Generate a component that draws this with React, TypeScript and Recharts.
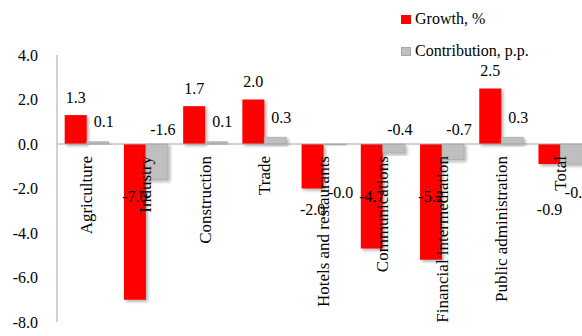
import React from "react";
import {
  BarChart,
  Bar,
  XAxis,
  YAxis,
  ReferenceLine,
  Legend,
  LabelList,
  Rectangle,
} from "recharts";

// values
const categories = [
  "Agriculture",
  "Industry",
  "Construction",
  "Trade",
  "Hotels and restaurants",
  "Communications",
  "Financial  intermediation",
  "Public administration",
  "Total",
];
const growth = [1.3, -7.0, 1.7, 2.0, -2.0, -4.7, -5.2, 2.5, -0.9];
const contribution = [0.1, -1.6, 0.1, 0.3, -0.04, -0.4, -0.7, 0.3, -0.9];
const yTicks = [4, 2, 0, -2, -4, -6, -8];

const data = categories.map((name, i) => ({
  name,
  growth: growth[i],
  contribution: contribution[i],
}));

const FONT = "Liberation Serif, DejaVu Serif, Tinos, Times New Roman, serif";
const RED = "#ff0000";
const GREY = "#bfbfbf";

function box(props: any) {
  const vb = props.viewBox && props.viewBox.width !== undefined ? props.viewBox : props;
  const x = Number(vb.x), y = Number(vb.y), w = Number(vb.width), h = Number(vb.height);
  return { x, w, top: Math.min(y, y + h), bottom: Math.max(y, y + h) };
}

function rowIndex(props: any) {
  if (typeof props.index === "number") return props.index;
  const name = props.payload?.name;
  return name ? categories.indexOf(name) : -1;
}

// short negative growth bars get both labels underneath
const isShortDrop = (i: number) => i >= 0 && growth[i] < 0 && growth[i] > -2.4;

const growthLabel = (props: any) => {
  const v = Number(props.value);
  const { x, w, top, bottom } = box(props);
  const zero = v >= 0 ? bottom : top;
  const cy = v >= 0 ? top - 18 : isShortDrop(rowIndex(props)) ? zero + 65 : zero + 52;
  return (
    <text x={x + w / 2} y={cy} textAnchor="middle" dominantBaseline="central"
      fontFamily={FONT} fontSize={16} fill="#000">
      {v.toFixed(1)}
    </text>
  );
};

const contribLabel = (props: any) => {
  const v = Number(props.value);
  const { x, w, top, bottom } = box(props);
  const zero = v >= 0 ? bottom : top;
  const cy = v >= 0 ? top - 20 : isShortDrop(rowIndex(props)) ? zero + 48 : zero - 15;
  return (
    <text x={x + w / 2 + 6} y={cy} textAnchor="middle" dominantBaseline="central"
      fontFamily={FONT} fontSize={16} fill="#000">
      {v.toFixed(1)}
    </text>
  );
};

const RedBar = (props: any) => (
  <Rectangle {...props} fill={RED} stroke="none" filter="url(#barShadow)" />
);

// grey bars drawn last, so the category names go on top of everything
const GreyBar = (props: any) => {
  const y = Number(props.y), h = Number(props.height);
  const val = props.payload ? props.payload.contribution : contribution[props.index];
  const zero = h < 0 ? y + h : val >= 0 ? y + h : y;
  const name = props.payload?.name ?? categories[props.index];
  const cx = Number(props.x);
  const ty = zero + 12;
  return (
    <g>
      <Rectangle {...props} fill={GREY} stroke="#a6a6a6" strokeWidth={0.75} filter="url(#barShadow)" />
      <text x={cx} y={ty} transform={`rotate(-90 ${cx} ${ty})`} textAnchor="end"
        dominantBaseline="central" fontFamily={FONT} fontSize={17} fill="#000">
        {name}
      </text>
    </g>
  );
};

const LegendBox = (props: any) => {
  const items = [...(props.payload || [])].sort((a: any, b: any) =>
    a.dataKey === "growth" ? -1 : b.dataKey === "growth" ? 1 : 0
  );
  return (
    <div style={{ fontFamily: FONT, fontSize: 16, color: "#000" }}>
      {items.map((it: any) => (
        <div key={it.value} style={{ display: "flex", alignItems: "center", height: 32 }}>
          <span style={{
            display: "inline-block", width: 10, height: 9, marginRight: 4,
            background: it.color, border: it.color === GREY ? "1px solid #a6a6a6" : "none",
            boxSizing: "border-box",
          }} />
          {it.value}
        </div>
      ))}
    </div>
  );
};

export default function App() {
  return (
    <div style={{ position: "absolute", left: 0, top: 0, width: 582, height: 336, overflow: "hidden", background: "#fff" }}>
      <BarChart width={600} height={336} data={data}
        margin={{ top: 55, right: 10, bottom: 14, left: 0 }}
        barCategoryGap="13%" barGap={0}>
        <defs>
          <filter id="barShadow" x="-20%" y="-20%" width="150%" height="150%">
            <feDropShadow dx="2" dy="2" stdDeviation="1.5" floodColor="#000" floodOpacity="0.3" />
          </filter>
        </defs>
        <XAxis dataKey="name" hide />
        <YAxis domain={[-8, 4]} ticks={yTicks} width={57} interval={0}
          tickFormatter={(v: number) => v.toFixed(1)}
          tick={{ fontFamily: FONT, fontSize: 16, fill: "#000" }}
          tickLine={false} tickSize={0} tickMargin={19}
          axisLine={{ stroke: "#a6a6a6" }} />
        <ReferenceLine y={0} stroke="#a6a6a6" strokeWidth={1} />
        <Legend layout="horizontal" verticalAlign="middle" align="center" content={LegendBox}
          wrapperStyle={{ top: 3, left: 401, width: 180 }} />
        <Bar dataKey="growth" name="Growth, %" fill={RED} shape={RedBar} isAnimationActive={false}>
          <LabelList dataKey="growth" content={growthLabel} />
        </Bar>
        <Bar dataKey="contribution" name="Contribution, p.p." fill={GREY} shape={GreyBar} isAnimationActive={false}>
          <LabelList dataKey="contribution" content={contribLabel} />
        </Bar>
      </BarChart>
    </div>
  );
}
